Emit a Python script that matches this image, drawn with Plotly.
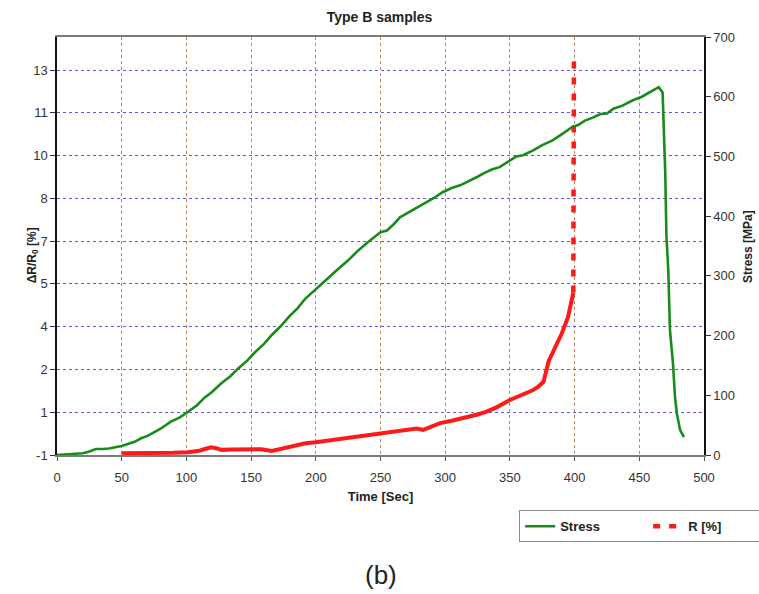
import plotly.graph_objects as go

# Stress measured against time (right axis, MPa)
stress_time = [0, 10, 20, 25, 30, 35, 40, 50, 60, 65, 70, 76, 80, 88, 95, 101, 108, 114, 120, 127,
               134, 140, 147, 153, 160, 166, 173, 179, 186, 192, 200, 208, 216, 225, 233, 240, 246,
               250, 255, 260, 265, 270, 278, 285, 291, 298, 305, 312, 317, 325, 330, 336, 342, 350,
               355, 360, 368, 375, 383, 390, 398, 403, 408, 414, 420, 425, 430, 437, 445, 452, 458,
               465, 468, 470, 471, 472.4, 473.7, 476, 477.6, 479, 481.5, 484.5]
stress_mpa = [0, 1, 3, 6, 10, 10, 11, 15, 22, 28, 32, 39, 44, 56, 63, 72, 83, 96, 106, 120,
              132, 145, 158, 172, 186, 201, 216, 231, 246, 262, 278, 293, 309, 326, 343, 356, 366,
              373, 376, 386, 398, 404, 414, 422, 430, 440, 447, 452, 457, 466, 472, 478, 482, 493,
              500, 502, 510, 519, 527, 537, 549, 553, 560, 565, 571, 572, 580, 585, 594, 600, 607,
              616, 607, 477, 365, 309, 209, 154, 97, 70, 42, 30]

# Relative resistance change (left axis, %)
r_time = [50, 60, 75, 90, 101, 110, 115, 119, 123, 127, 135, 143, 150, 158, 166, 172, 179, 186,
          192, 200, 213, 225, 239, 250, 260, 270, 278, 283, 290, 296, 305, 317, 325, 332, 340,
          350, 360, 368, 372, 376, 380, 385, 390, 395, 399, 399.5]
r_pct = [-0.94, -0.94, -0.93, -0.92, -0.9, -0.85, -0.78, -0.73, -0.76, -0.82, -0.81, -0.8, -0.79,
         -0.8, -0.86, -0.8, -0.71, -0.64, -0.59, -0.55, -0.47, -0.38, -0.3, -0.24, -0.18, -0.12,
         -0.07, -0.12, 0.02, 0.12, 0.2, 0.32, 0.42, 0.52, 0.68, 0.93, 1.12, 1.28, 1.4, 1.57, 2.3,
         2.75, 3.25, 3.85, 4.7, 13.0]

# Left axis ticks step 1.5, labels shown rounded to whole numbers
left_tickvals = [-1, 0.5, 2, 3.5, 5, 6.5, 8, 9.5, 11, 12.5]
left_ticktext = ["-1", "1", "2", "4", "5", "7", "8", "10", "11", "13"]
x_ticks = [0, 50, 100, 150, 200, 250, 300, 350, 400, 450, 500]
right_ticks = [0, 100, 200, 300, 400, 500, 600, 700]

FONT = "Arial, Liberation Sans, sans-serif"
GREEN = "#1a8a1a"
RED = "#ff1a1a"

fig = go.Figure()

fig.add_trace(go.Scatter(
    x=stress_time, y=stress_mpa, name="<b>Stress</b>", mode="lines", yaxis="y2",
    line=dict(color=GREEN, width=2.6),
))
# the measured part of R is drawn solid, the final jump dashed
fig.add_trace(go.Scatter(
    x=r_time[:-1], y=r_pct[:-1], name="<b>R [%]</b>", mode="lines", showlegend=False,
    line=dict(color=RED, width=4),
))
fig.add_trace(go.Scatter(
    x=r_time[-2:], y=r_pct[-2:], name="<b>R [%]</b>", mode="lines",
    line=dict(color=RED, width=4.5, dash="7px,9px"),
))

fig.update_layout(
    width=759, height=594,
    margin=dict(l=57, r=55, t=37, b=139),
    paper_bgcolor="white", plot_bgcolor="white",
    font=dict(family=FONT, size=12, color="#333333"),
    title=dict(text="<b>Type B samples</b>", x=0.5, xanchor="center", y=0.972, yanchor="middle",
               font=dict(size=14, color="#222222")),
    showlegend=True,
    legend=dict(orientation="h", xref="container", yref="container",
                x=0.684, xanchor="left", y=0.141, yanchor="top",
                bordercolor="#8a8a8a", borderwidth=1, bgcolor="white",
                font=dict(size=13, color="#222222", family=FONT),
                entrywidth=83, entrywidthmode="pixels", tracegroupgap=0),
    xaxis=dict(
        range=[0, 500], tickvals=x_ticks, ticks="outside", ticklen=4, tickcolor="#555555",
        showline=True, linecolor="#7a7a7a", linewidth=1.5, mirror=True,
        showgrid=True, gridcolor="#d07a50", griddash="dot", gridwidth=1,
        zeroline=False, automargin=False, ticklabelstandoff=6,
        title=dict(text="<b>Time [Sec]</b>", font=dict(size=13, color="#222222"), standoff=8),
        tickfont=dict(size=13, color="#333333"),
    ),
    yaxis=dict(
        range=[-1, 13.66], tickvals=left_tickvals, ticktext=left_ticktext,
        ticks="outside", ticklen=5, tickcolor="#333333",
        showline=True, linecolor="#111111", linewidth=1.5,
        showgrid=True, gridcolor="#5858f5", griddash="dot", gridwidth=1,
        zeroline=False, automargin=False,
        tickfont=dict(size=13, color="#333333"),
    ),
    yaxis2=dict(
        range=[0, 700], tickvals=right_ticks, overlaying="y", side="right",
        ticks="outside", ticklen=5, tickcolor="#333333",
        showline=True, linecolor="#111111", linewidth=1.5,
        showgrid=False, zeroline=False, automargin=False,
        tickfont=dict(size=13, color="#333333"),
    ),
    annotations=[
        dict(text="<b>ΔR/R<sub>0</sub> [%]</b>", xref="paper", yref="paper", x=-0.037, y=0.478,
             textangle=-90, xanchor="center", yanchor="middle", showarrow=False,
             font=dict(size=12, color="#222222", family=FONT)),
        dict(text="<b>Stress [MPa]</b>", xref="paper", yref="paper", x=1.068, y=0.5,
             textangle=-90, xanchor="center", yanchor="middle", showarrow=False,
             font=dict(size=12, color="#222222", family=FONT)),
        dict(text="(b)", xref="paper", yref="paper", x=0.5, y=-0.287,
             xanchor="center", yanchor="middle", showarrow=False,
             font=dict(size=26, color="#222222", family=FONT)),
    ],
)

fig.write_html("out.html")
